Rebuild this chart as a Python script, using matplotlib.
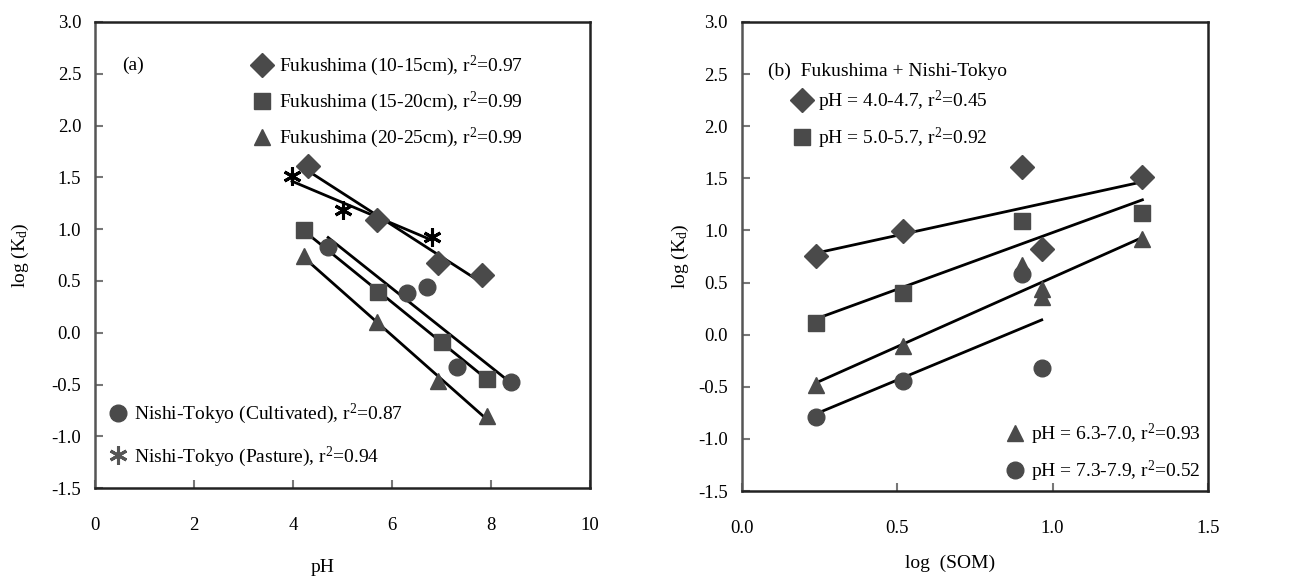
import numpy as np
import matplotlib
matplotlib.use('Agg')
import matplotlib.pyplot as plt
from matplotlib.lines import Line2D

plt.rcParams['font.family'] = ['Liberation Serif', 'DejaVu Serif']
plt.rcParams['mathtext.fontset'] = 'custom'
plt.rcParams['mathtext.rm'] = 'Liberation Serif'
plt.rcParams['mathtext.it'] = 'Liberation Serif:italic'

# panel (a): log(Kd) vs pH
ph_f10 = [4.30, 5.70, 6.93, 7.82]
kd_f10 = [1.61, 1.09, 0.67, 0.56]
ph_f15 = [4.22, 5.72, 7.01, 7.92]
kd_f15 = [0.99, 0.39, -0.09, -0.45]
ph_f20 = [4.22, 5.70, 6.93, 7.92]
kd_f20 = [0.74, 0.10, -0.47, -0.80]
ph_cult = [4.71, 6.30, 6.71, 7.31, 8.40]
kd_cult = [0.83, 0.38, 0.44, -0.33, -0.48]
ph_past = [3.98, 5.01, 6.81]
kd_past = [1.51, 1.18, 0.92]

# panel (b): log(Kd) vs log(SOM)
som_a = [0.237, 0.519, 0.900, 0.965, 1.289]
kd_a = [0.75, 0.99, 1.61, 0.82, 1.51]
som_b = [0.237, 0.519, 0.900, 1.289]
kd_b = [0.11, 0.40, 1.09, 1.17]
som_c = [0.237, 0.519, 0.900, 0.965, 0.965, 1.289]
kd_c = [-0.48, -0.11, 0.67, 0.44, 0.36, 0.92]
som_d = [0.237, 0.519, 0.900, 0.965]
kd_d = [-0.79, -0.44, 0.58, -0.32]

GRAY = '#4a4a4a'
FS = 13.5   # tick labels
LFS = 14    # legend / annotation text


def fit_line(ax, x, y):
    x = np.asarray(x)
    k, b = np.polyfit(x, np.asarray(y), 1)
    xs = np.array([x.min(), x.max()])
    ax.plot(xs, k * xs + b, color='black', lw=2, zorder=3)


def style_axes(ax):
    for s in ax.spines.values():
        s.set_linewidth(1.8)
        s.set_color('#222222')
    ax.spines['left'].set_color('#555555')
    ax.tick_params(direction='in', length=6, width=1.5, color='#777777',
                   labelsize=FS)
    ax.tick_params(axis='x', pad=21)
    ax.tick_params(axis='y', pad=10)


def make_legend(ax, handles, labels, loc, anchor, spacing):
    return ax.legend(handles, labels, loc=loc, bbox_to_anchor=anchor,
                     frameon=False, fontsize=LFS, handlelength=0.8,
                     handletextpad=0.45, labelspacing=spacing, borderpad=0.0,
                     borderaxespad=0.0)


fig = plt.figure(figsize=(13.09, 5.77), dpi=100)
ax1 = fig.add_axes([0.0726, 0.1540, 0.3781, 0.8080])
ax2 = fig.add_axes([0.5668, 0.1490, 0.3560, 0.8130])

mk = dict(color=GRAY, linestyle='none', zorder=4)

# ---- panel a
ax1.plot(ph_f10, kd_f10, marker='D', ms=12, **mk)
ax1.plot(ph_f15, kd_f15, marker='s', ms=12, **mk)
ax1.plot(ph_f20, kd_f20, marker='^', ms=12, **mk)
ax1.plot(ph_cult, kd_cult, marker='o', ms=12, **mk)
ax1.plot(ph_past, kd_past, marker=(6, 2, 0), ms=13, mew=2.2,
         color='black', linestyle='none', zorder=4)
for x, y in [(ph_f10, kd_f10), (ph_f15, kd_f15), (ph_f20, kd_f20),
             (ph_cult, kd_cult), (ph_past, kd_past)]:
    fit_line(ax1, x, y)

ax1.set_xlim(0, 10)
ax1.set_ylim(-1.5, 3.0)
ax1.set_xticks(np.arange(0, 11, 2))
ax1.set_yticks(np.arange(-1.5, 3.01, 0.5))
ax1.yaxis.set_major_formatter(plt.FormatStrFormatter('%.1f'))
style_axes(ax1)
ax1.set_xlabel('pH', fontsize=LFS)
ax1.xaxis.set_label_coords(0.46, -0.151)
ax1.set_ylabel(r'log (K$_{\mathrm{d}}$)', fontsize=LFS)
ax1.yaxis.set_label_coords(-0.130, 0.5)
ax1.text(0.055, 0.907, '(a)', transform=ax1.transAxes, fontsize=LFS,
         va='center')

h_top = [Line2D([], [], marker='D', ms=12, **mk),
         Line2D([], [], marker='s', ms=12, **mk),
         Line2D([], [], marker='^', ms=12, **mk)]
lab_top = [r'Fukushima (10-15cm), r$^2$=0.97',
           r'Fukushima (15-20cm), r$^2$=0.99',
           r'Fukushima (20-25cm), r$^2$=0.99']
leg1 = make_legend(ax1, h_top, lab_top, 'upper left', (0.322, 0.931), 0.6)
ax1.add_artist(leg1)
h_bot = [Line2D([], [], marker='o', ms=12, **mk),
         Line2D([], [], marker=(6, 2, 0), ms=13, mew=2.2, color='#555555',
                linestyle='none')]
lab_bot = [r'Nishi-Tokyo (Cultivated), r$^2$=0.87',
           r'Nishi-Tokyo (Pasture), r$^2$=0.94']
make_legend(ax1, h_bot, lab_bot, 'lower left', (0.03, 0.042), 0.92)

# ---- panel b
ax2.plot(som_a, kd_a, marker='D', ms=12, **mk)
ax2.plot(som_b, kd_b, marker='s', ms=12, **mk)
ax2.plot(som_c, kd_c, marker='^', ms=12, **mk)
ax2.plot(som_d, kd_d, marker='o', ms=12, **mk)
for x, y in [(som_a, kd_a), (som_b, kd_b), (som_c, kd_c), (som_d, kd_d)]:
    fit_line(ax2, x, y)

ax2.set_xlim(0, 1.5)
ax2.set_ylim(-1.5, 3.0)
ax2.set_xticks([0.0, 0.5, 1.0, 1.5])
ax2.set_yticks(np.arange(-1.5, 3.01, 0.5))
ax2.xaxis.set_major_formatter(plt.FormatStrFormatter('%.1f'))
ax2.yaxis.set_major_formatter(plt.FormatStrFormatter('%.1f'))
style_axes(ax2)
ax2.set_xlabel('log  (SOM)', fontsize=LFS)
ax2.xaxis.set_label_coords(0.446, -0.135)
ax2.set_ylabel(r'log (K$_{\mathrm{d}}$)', fontsize=LFS)
ax2.yaxis.set_label_coords(-0.109, 0.5)
ax2.text(0.056, 0.894, '(b)  Fukushima + Nishi-Tokyo', transform=ax2.transAxes,
         fontsize=LFS, va='center')

h2_top = [Line2D([], [], marker='D', ms=12, **mk),
          Line2D([], [], marker='s', ms=12, **mk)]
lab2_top = [r'pH = 4.0-4.7, r$^2$=0.45', r'pH = 5.0-5.7, r$^2$=0.92']
leg3 = make_legend(ax2, h2_top, lab2_top, 'upper left', (0.112, 0.858), 0.6)
ax2.add_artist(leg3)
h2_bot = [Line2D([], [], marker='^', ms=12, **mk),
          Line2D([], [], marker='o', ms=12, **mk)]
lab2_bot = [r'pH = 6.3-7.0, r$^2$=0.93', r'pH = 7.3-7.9, r$^2$=0.52']
make_legend(ax2, h2_bot, lab2_bot, 'lower right', (0.985, 0.015), 0.6)

fig.savefig('out.png', dpi=100)
